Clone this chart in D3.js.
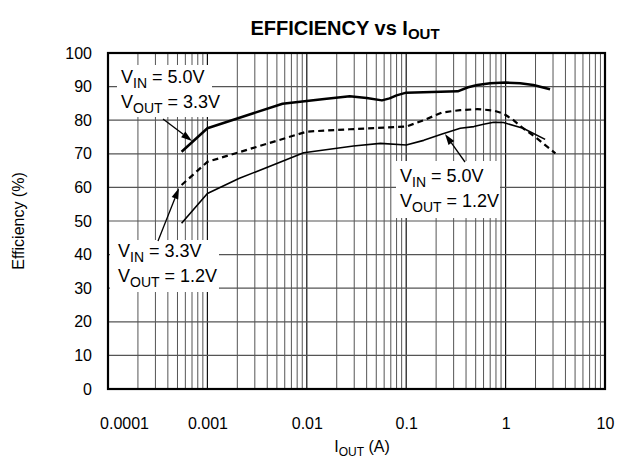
<!DOCTYPE html>
<html><head><meta charset="utf-8">
<script src="https://cdn.jsdelivr.net/npm/d3@7"></script>
<style>body{margin:0;background:#fff}svg{display:block}text{font-family:"Liberation Sans",Arial,Helvetica,sans-serif;fill:#000}</style>
</head><body><svg id="c" width="620" height="462"></svg>
<script>
const xTicks = [0.0001, 0.001, 0.01, 0.1, 1, 10];
const xTickLabels = ["0.0001", "0.001", "0.01", "0.1", "1", "10"];
const yTicks = [0, 10, 20, 30, 40, 50, 60, 70, 80, 90, 100];

// VIN = 5.0V, VOUT = 3.3V (thick solid)
const s1x = [5.5e-4, 1.0e-3, 5.7e-3, 0.015, 0.027, 0.04, 0.057, 0.068, 0.08, 0.1, 0.33, 0.42, 0.52, 0.7, 1.0, 1.4, 1.9, 2.8];
const s1y = [70.6, 77.6, 84.9, 86.3, 87.1, 86.6, 85.9, 86.5, 87.4, 88.2, 88.6, 89.8, 90.5, 91.0, 91.2, 91.0, 90.5, 89.2];
// VIN = 3.3V, VOUT = 1.2V (dashed)
const s2x = [5.5e-4, 1.0e-3, 0.01, 0.027, 0.1, 0.15, 0.23, 0.35, 0.52, 0.75, 0.95, 1.2, 1.5, 2.07, 3.17];
const s2y = [60.7, 67.6, 76.6, 77.3, 78.1, 80.0, 82.3, 83.0, 83.3, 82.9, 82.0, 80.0, 77.6, 74.6, 70.1];
// VIN = 5.0V, VOUT = 1.2V (thin solid)
const s3x = [5.5e-4, 1.0e-3, 2.1e-3, 9.3e-3, 0.0295, 0.055, 0.1, 0.15, 0.23, 0.35, 0.48, 0.6, 0.76, 0.95, 1.5, 2.5];
const s3y = [49.3, 58.2, 62.7, 70.3, 72.3, 73.1, 72.6, 74.0, 75.9, 77.6, 78.1, 78.8, 79.4, 79.3, 77.6, 74.3];

const svg = d3.select("#c");
const L = 108, R = 605, T = 53, B = 389;
const x = d3.scaleLog().domain([1e-4, 10]).range([L, R]);
const y = d3.scaleLinear().domain([0, 100]).range([B, T]);

// minor + major vertical grid
const minor = [];
for (let e = -4; e < 1; e++) for (let m = 2; m <= 9; m++) minor.push(m * Math.pow(10, e));
svg.append("g").selectAll("line").data(minor).join("line")
  .attr("x1", d => x(d)).attr("x2", d => x(d)).attr("y1", T).attr("y2", B)
  .attr("stroke", "#555").attr("stroke-width", 1);
svg.append("g").selectAll("line").data(xTicks).join("line")
  .attr("x1", d => x(d)).attr("x2", d => x(d)).attr("y1", T).attr("y2", B)
  .attr("stroke", "#111").attr("stroke-width", 1.2);
svg.append("g").selectAll("line").data(yTicks).join("line")
  .attr("x1", L).attr("x2", R).attr("y1", d => y(d)).attr("y2", d => y(d))
  .attr("stroke", "#555").attr("stroke-width", 1.2);

// annotation boxes (white, covering grid)
const boxes = [[117, 65, 95, 52], [396, 161, 104, 57], [110, 240, 109, 52]];
svg.append("g").selectAll("rect").data(boxes).join("rect")
  .attr("x", d => d[0]).attr("y", d => d[1]).attr("width", d => d[2]).attr("height", d => d[3])
  .attr("fill", "#fff");

// curves
const line = d3.line().x(d => x(d[0])).y(d => y(d[1])).curve(d3.curveLinear);
const series = [
  {xs: s1x, ys: s1y, w: 2.5, dash: null},
  {xs: s2x, ys: s2y, w: 2.2, dash: "6,4"},
  {xs: s3x, ys: s3y, w: 1.6, dash: null}
];
series.forEach(s => {
  svg.append("path").datum(s.xs.map((v, i) => [v, s.ys[i]]))
    .attr("d", line).attr("fill", "none").attr("stroke", "#000")
    .attr("stroke-width", s.w).attr("stroke-linejoin", "round").attr("stroke-dasharray", s.dash);
});

// frame
svg.append("rect").attr("x", L).attr("y", T).attr("width", R - L).attr("height", B - T)
  .attr("fill", "none").attr("stroke", "#000").attr("stroke-width", 2.2);

// axes labels
const xAxis = d3.axisBottom(x).tickValues(xTicks).tickFormat((d, i) => xTickLabels[i]).tickSize(0).tickPadding(0);
const gx = svg.append("g").attr("transform", `translate(0,${B})`).call(xAxis);
gx.select(".domain").remove();
gx.selectAll("text").attr("font-size", 16).attr("fill", "#000").attr("dy", null).attr("y", 40)
  .style("font-family", '"Liberation Sans",Arial,sans-serif');
gx.selectAll(".tick").filter(d => d === 1e-4).select("text").attr("x", 16);

const yAxis = d3.axisLeft(y).tickValues(yTicks).tickSize(0).tickPadding(0);
const gy = svg.append("g").attr("transform", `translate(${L},0)`).call(yAxis);
gy.select(".domain").remove();
gy.selectAll("text").attr("font-size", 16).attr("fill", "#000").attr("x", -16)
  .style("font-family", '"Liberation Sans",Arial,sans-serif');

// title
const title = svg.append("text").attr("x", 345).attr("y", 35).attr("text-anchor", "middle")
  .attr("font-size", 20).attr("font-weight", "bold");
title.append("tspan").text("EFFICIENCY vs I");
title.append("tspan").attr("font-size", 15).attr("dy", 4).text("OUT");

// x title
const xt = svg.append("text").attr("x", 362).attr("y", 452).attr("text-anchor", "middle").attr("font-size", 16);
xt.append("tspan").text("I");
xt.append("tspan").attr("font-size", 12).attr("dy", 4).text("OUT");
xt.append("tspan").attr("dy", -4).text(" (A)");

// y title
svg.append("text").attr("transform", `translate(24,${(T + B) / 2}) rotate(-90)`)
  .attr("text-anchor", "middle").attr("font-size", 16).text("Efficiency (%)");

// annotation labels
function label(xp, yp, sub, val) {
  const t = svg.append("text").attr("x", xp).attr("y", yp).attr("font-size", 18);
  t.append("tspan").text("V");
  t.append("tspan").attr("font-size", 14).attr("dy", 5).text(sub);
  t.append("tspan").attr("dy", -5).text(" = " + val);
}
label(121, 83, "IN", "5.0V"); label(121, 108, "OUT", "3.3V");
label(400, 182, "IN", "5.0V"); label(400, 207, "OUT", "1.2V");
label(118, 257, "IN", "3.3V"); label(118, 282, "OUT", "1.2V");

// arrows
const arrows = [[163, 119, 192, 141], [465, 162, 445, 134], [158, 241, 179, 188]];
arrows.forEach(a => {
  const [x1, y1, x2, y2] = a;
  const ang = Math.atan2(y2 - y1, x2 - x1);
  const len = 11, hw = 3.5;
  const bx = x2 - len * Math.cos(ang), by = y2 - len * Math.sin(ang);
  svg.append("line").attr("x1", x1).attr("y1", y1).attr("x2", bx).attr("y2", by)
    .attr("stroke", "#000").attr("stroke-width", 1.3);
  const px = -Math.sin(ang) * hw, py = Math.cos(ang) * hw;
  svg.append("path").attr("d", `M${x2},${y2}L${bx + px},${by + py}L${bx - px},${by - py}Z`).attr("fill", "#000");
});
</script></body></html>
